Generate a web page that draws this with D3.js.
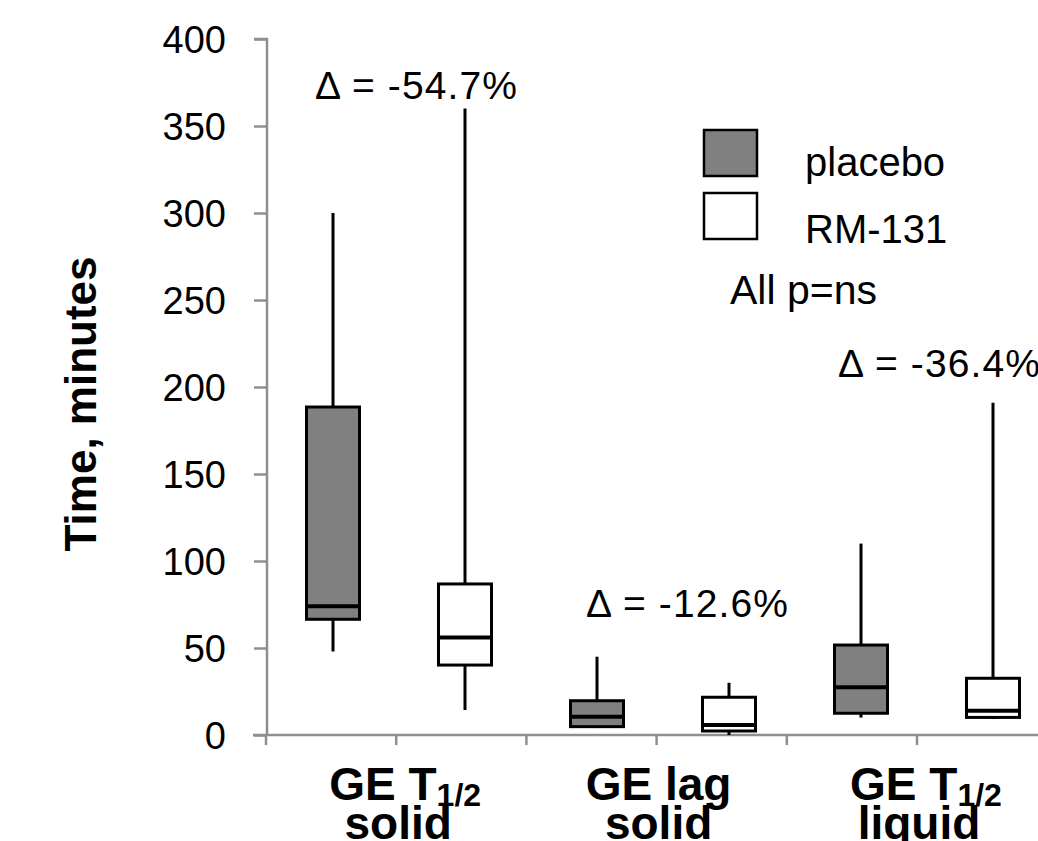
<!DOCTYPE html>
<html>
<head>
<meta charset="utf-8">
<script src="https://cdn.jsdelivr.net/npm/d3@7"></script>
<style>
  html, body { margin: 0; padding: 0; background: #fff; }
  svg { display: block; font-family: "Liberation Sans", Arial, sans-serif; }
</style>
</head>
<body>
<svg id="chart" width="1038" height="841"></svg>
<script>
// ---- data ----
const groups = ["GE T1/2 solid", "GE lag solid", "GE T1/2 liquid"];
const series = ["placebo", "RM-131"];
const seriesColors = ["#808080", "#ffffff"];
// [whiskerLow, q1, median, q3, whiskerHigh] per group
const placeboStats = [
  [48, 66.5, 74, 188.5, 300],
  [4, 4.8, 10.5, 19.7, 45],
  [10, 12.5, 27.4, 51.7, 110]
];
const rm131Stats = [
  [14.4, 40.2, 56, 86.8, 360],
  [0, 2.3, 5.7, 21.7, 30],
  [9.2, 10.1, 14, 32.6, 191]
];
const deltaLabels = ["\u0394 = -54.7%", "\u0394 = -12.6%", "\u0394 = -36.4%"];
const yTicks = [0, 50, 100, 150, 200, 250, 300, 350, 400];

// ---- layout ----
const svg = d3.select("#chart");
const y = d3.scaleLinear().domain([0, 400]).range([735, 39]);
const slots = [];
groups.forEach((g, gi) => series.forEach((s, si) => slots.push(gi + "|" + si)));
const x = d3.scaleBand().domain(slots).range([266, 266 + 6 * 132]).padding(0);
const xAxisScale = d3.scaleBand().domain(slots).range([266, 266 + 6 * 130.2]).padding(0);
const boxW = 53;
const axisColor = "#8f8f8f";

// y axis
const yAxis = d3.axisLeft(y).tickValues(yTicks).tickSize(13).tickPadding(28).tickFormat(d3.format("d"));
const gy = svg.append("g").attr("transform", "translate(267,0)").call(yAxis);
gy.select(".domain").attr("stroke", axisColor).attr("stroke-width", 2.5).attr("d", "M-13,39H0V735");
gy.selectAll(".tick line").attr("stroke", axisColor).attr("stroke-width", 2.5);
gy.selectAll(".tick text").attr("font-size", 38).attr("fill", "#000").attr("dy", "0.36em")
  .attr("font-family", "Liberation Sans, Arial, sans-serif");

// x axis
const xBoundaries = d3.range(0, 7).map(i => 266 + i * xAxisScale.bandwidth());
const gx = svg.append("g");
gx.append("line").attr("x1", 253).attr("x2", 1038).attr("y1", y(0)).attr("y2", y(0))
  .attr("stroke", axisColor).attr("stroke-width", 2.5);
gx.selectAll("line.tick").data(xBoundaries).join("line").attr("class", "tick")
  .attr("x1", d => d).attr("x2", d => d).attr("y1", y(0)).attr("y2", y(0) + 10)
  .attr("stroke", axisColor).attr("stroke-width", 2.5);

// boxes
const allStats = [placeboStats, rm131Stats];
const boxes = [];
groups.forEach((g, gi) => series.forEach((s, si) => {
  boxes.push({ key: gi + "|" + si, si, st: allStats[si][gi] });
}));
const bg = svg.append("g");
const bx = bg.selectAll("g.box").data(boxes).join("g").attr("class", "box");
const cxOf = d => x(d.key) + x.bandwidth() / 2 + 1;
bx.append("line")
  .attr("x1", cxOf).attr("x2", cxOf)
  .attr("y1", d => y(d.st[0])).attr("y2", d => y(d.st[4]))
  .attr("stroke", "#000").attr("stroke-width", 3);
bx.append("rect")
  .attr("x", d => cxOf(d) - boxW / 2).attr("width", boxW)
  .attr("y", d => y(d.st[3])).attr("height", d => y(d.st[1]) - y(d.st[3]))
  .attr("fill", d => seriesColors[d.si]).attr("stroke", "#000").attr("stroke-width", 3);
bx.append("line")
  .attr("x1", d => cxOf(d) - boxW / 2).attr("x2", d => cxOf(d) + boxW / 2)
  .attr("y1", d => y(d.st[2])).attr("y2", d => y(d.st[2]))
  .attr("stroke", "#000").attr("stroke-width", 4);

// category labels
const catLines = [["GE T", "1/2", "solid"], ["GE lag", "", "solid"], ["GE T", "1/2", "liquid"]];
catLines.forEach((c, gi) => {
  const cx = xBoundaries[gi * 2 + 1];
  const g = svg.append("g").attr("transform", `translate(${cx},0)`);
  const t1 = g.append("text").attr("text-anchor", "middle").attr("font-weight", "bold")
    .attr("font-size", 46).attr("x", c[1] ? 9 : 2).attr("y", 800);
  t1.append("tspan").text(c[0]);
  if (c[1]) t1.append("tspan").attr("font-size", 32).attr("dy", 6).text(c[1]);
  g.append("text").attr("text-anchor", "middle").attr("font-weight", "bold")
    .attr("font-size", 46).attr("x", 2).attr("y", 839).text(c[2]);
});

// y title
svg.append("text").attr("transform", "translate(96,404) rotate(-90)")
  .attr("text-anchor", "middle").attr("font-weight", "bold").attr("font-size", 44)
  .text("Time, minutes");

// delta labels
const deltaPos = [[315, 99], [586, 617], [838, 377]];
svg.selectAll("text.delta").data(deltaLabels).join("text").attr("class", "delta")
  .attr("x", (d, i) => deltaPos[i][0]).attr("y", (d, i) => deltaPos[i][1])
  .attr("font-size", 39).attr("textLength", 202).attr("lengthAdjust", "spacing").text(d => d);

// legend
const lg = svg.append("g");
const legTextY = [176, 243];
series.forEach((s, si) => {
  lg.append("rect").attr("x", 704).attr("y", 130 + si * 63).attr("width", 53).attr("height", 46)
    .attr("fill", seriesColors[si]).attr("stroke", "#000").attr("stroke-width", 2.5);
  lg.append("text").attr("x", 805).attr("y", legTextY[si]).attr("font-size", 40).text(s);
});
lg.append("text").attr("x", 730).attr("y", 304).attr("font-size", 41).text("All p=ns");
</script>
</body>
</html>
